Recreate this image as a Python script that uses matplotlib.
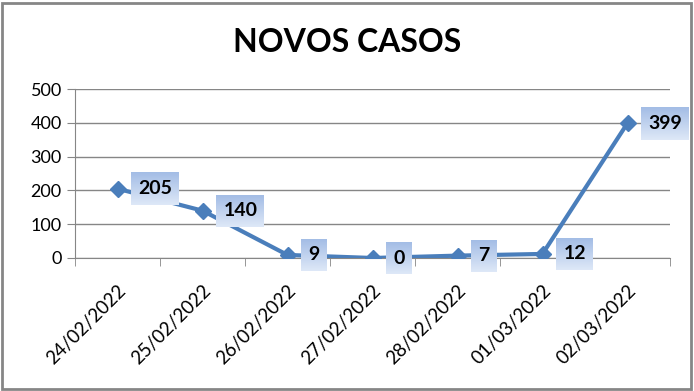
import numpy as np
import matplotlib.pyplot as plt

dates = ['24/02/2022', '25/02/2022', '26/02/2022', '27/02/2022',
         '28/02/2022', '01/03/2022', '02/03/2022']
cases = [205, 140, 9, 0, 7, 12, 399]
y_ticks = [0, 100, 200, 300, 400, 500]

plt.rcParams['font.family'] = ['Lato', 'DejaVu Sans']

fig = plt.figure(figsize=(6.94, 3.91), dpi=100)
ax = fig.add_axes([75 / 694, 1 - 258 / 391, 595 / 694, 169 / 391])

x = range(len(dates))
ax.plot(x, cases, color='#4A7EBB', linewidth=3, marker='D', markersize=8,
        zorder=3)

ax.set_xlim(-0.5, len(dates) - 0.5)
ax.set_ylim(0, 500)
ax.set_yticks(y_ticks)
ax.set_yticklabels([str(t) for t in y_ticks], fontsize=13)
ax.yaxis.grid(True, color='#868686', linewidth=1)
ax.set_axisbelow(True)

# category ticks sit between categories
ax.set_xticks([i + 0.5 for i in range(-1, len(dates))], minor=True)
ax.set_xticks(list(x))
ax.set_xticklabels(dates, rotation=45, ha='right', rotation_mode='anchor',
                   fontsize=13.5)
ax.tick_params(axis='x', which='major', length=0, pad=17)
ax.tick_params(axis='x', which='minor', length=6, color='#868686')
ax.tick_params(axis='y', length=6, color='#868686')

for side in ['top', 'right']:
    ax.spines[side].set_visible(False)
ax.spines['left'].set_color('#868686')
ax.spines['bottom'].set_color('#868686')

fig.text(0.5, 1 - 43 / 391, 'NOVOS CASOS', ha='center', va='center',
         fontsize=23, fontweight='bold')

# data labels to the right of each point
labels = []
for i, v in enumerate(cases):
    t = ax.annotate(str(v), (i, v), xytext=(15, 0), textcoords='offset points',
                    ha='left', va='center', fontsize=14, fontweight='bold',
                    zorder=6)
    labels.append(t)

# gradient boxes behind the labels (darker blue on top, lighter below)
fig.canvas.draw()
grad = np.linspace(0, 1, 50).reshape(-1, 1)
top = np.array([0.64, 0.74, 0.90])
bottom = np.array([0.87, 0.91, 0.97])
img = top + (bottom - top) * grad[..., None]
inv = ax.transData.inverted()
for t in labels:
    bb = t.get_window_extent()
    x0, y0 = inv.transform((bb.x0 - 7, bb.y0 - 8))
    x1, y1 = inv.transform((bb.x1 + 7, bb.y1 + 7))
    ax.imshow(img, extent=(x0, x1, y0, y1), aspect='auto', zorder=5,
              origin='upper', clip_on=False)

ax.set_xlim(-0.5, len(dates) - 0.5)
ax.set_ylim(0, 500)

# outer chart border
fig.patches.append(plt.Rectangle((2 / 694, 2 / 391), 689 / 694, 386 / 391,
                                 transform=fig.transFigure, fill=False,
                                 ec='#868686', lw=2))

fig.savefig('out.png', dpi=100)
